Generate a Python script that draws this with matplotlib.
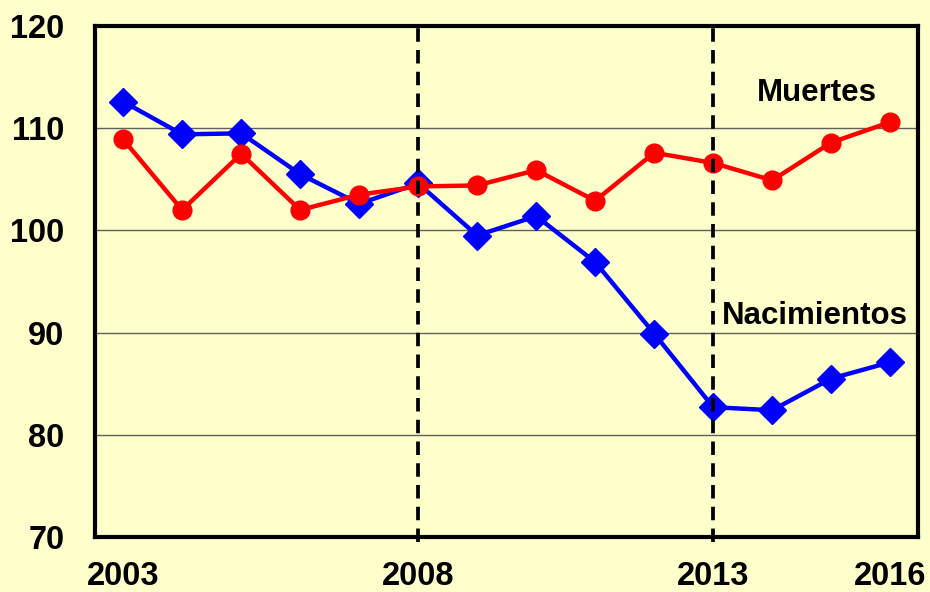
import matplotlib
matplotlib.use("Agg")
import matplotlib.pyplot as plt

years = list(range(2003, 2017))
nacimientos = [112.6, 109.4, 109.5, 105.5, 102.6, 104.6, 99.5, 101.4, 96.9, 89.9, 82.7, 82.4, 85.5, 87.1]
muertes = [108.9, 102.0, 107.5, 102.0, 103.5, 104.3, 104.4, 105.9, 102.9, 107.6, 106.6, 104.9, 108.6, 110.6]
ytick_vals = [70, 80, 90, 100, 110, 120]
xtick_vals = [2003, 2008, 2013, 2016]
vlines = [2008, 2013]

bg = "#FFFFCC"
plt.rcParams['font.family'] = ['Liberation Sans', 'DejaVu Sans']
fig = plt.figure(figsize=(9.3, 5.92), dpi=100, facecolor=bg)
ax = fig.add_axes([0.102, 0.093, 0.885, 0.863], facecolor=bg)

ax.set_xlim(2002.52, 2016.47)
ax.set_ylim(70, 120)

for v in [80, 90, 100, 110]:
    ax.axhline(v, color="#606060", lw=1.0, zorder=1)

ax.plot(years, nacimientos, color="#0000FF", lw=3.2, marker="D", ms=14, zorder=3)
ax.plot(years, muertes, color="#FF0000", lw=3.2, marker="o", ms=13.5, zorder=4)

for v in vlines:
    ax.axvline(v, color="black", lw=2.7, dashes=(3.6, 2.2), zorder=5, clip_on=False, ymin=-0.01, ymax=1)

ax.text(2014.76, 113.4, "Muertes", fontsize=22.5, fontweight="bold", ha="center", va="center", zorder=6)
ax.text(2014.72, 91.6, "Nacimientos", fontsize=22.5, fontweight="bold", ha="center", va="center", zorder=6)

ax.set_yticks(ytick_vals)
ax.set_yticklabels([str(v) for v in ytick_vals], fontsize=23.5, fontweight="bold")
ax.set_xticks(xtick_vals)
ax.set_xticklabels([str(v) for v in xtick_vals], fontsize=23.5, fontweight="bold")
ax.tick_params(axis="y", length=0, pad=22)
ax.tick_params(axis="x", length=0, pad=17)

for s in ax.spines.values():
    s.set_linewidth(3)
    s.set_color("black")
    s.set_zorder(7)

fig.savefig("out.png", dpi=100, facecolor=bg)
